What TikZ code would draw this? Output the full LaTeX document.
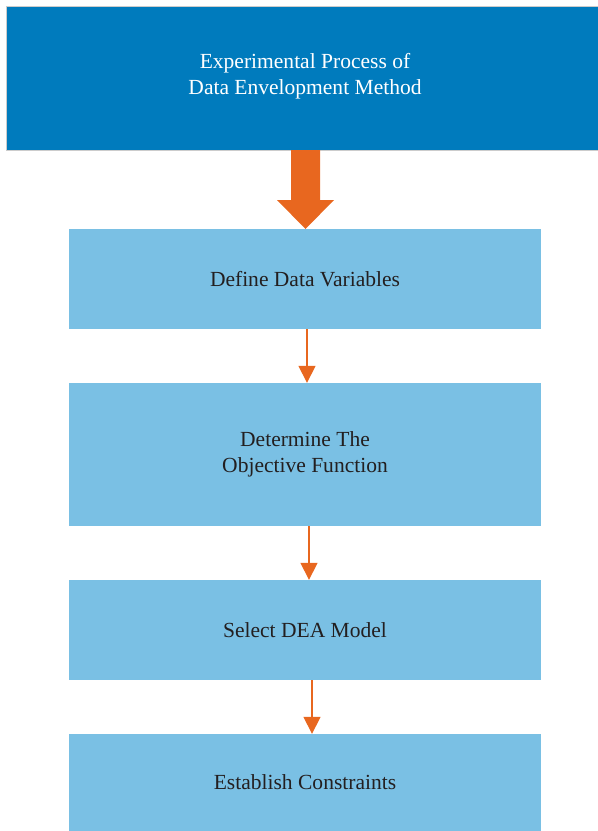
\documentclass[tikz,border=0pt]{standalone}
\usepackage{fontspec}
\setmainfont{Liberation Serif}
\usetikzlibrary{arrows.meta}
\definecolor{deepblue}{HTML}{007BBD}
\definecolor{paleblue}{HTML}{7AC0E4}
\definecolor{flow}{HTML}{E8671F}
\definecolor{ink}{HTML}{231F20}
\begin{document}
\begin{tikzpicture}[x=1bp,y=-1bp,
  stepbox/.style={fill=paleblue, draw=none, minimum width=472bp, inner sep=0pt,
    text=ink, align=center, font=\fontsize{21.6}{26}\selectfont},
  thin/.style={draw=flow, line width=1.6bp, -{Triangle[length=17bp,width=17bp]}}]
\useasboundingbox (0,0) rectangle (598,831);
% header band
\fill[deepblue] (6,6) rectangle (598,150);
\draw[black!20, line width=0.8bp] (598,6) -- (6,6) -- (6,150) -- (598,150);
\node[text=white, align=center, font=\fontsize{21.6}{26}\selectfont] (title) at (305,76)
  {Experimental Process of\\Data Envelopment Method};
% steps
\node[stepbox, minimum height=100bp] (s1) at (305,279) {Define Data Variables};
\node[stepbox, minimum height=143bp] (s2) at (305,454.5) {Determine The\\Objective Function};
\node[stepbox, minimum height=100bp] (s3) at (305,630) {Select DEA Model};
\node[stepbox, minimum height=97bp] (s4) at (305,782.5) {Establish Constraints};
% block arrow from header to first step
\fill[flow] (291,150) -- (320,150) -- (320,200) -- (334,200) -- (305.5,229)
  -- (277,200) -- (291,200) -- cycle;
% connectors
\draw[thin] (s1.south -| 307,0) -- (s2.north -| 307,0);
\draw[thin] (s2.south -| 309,0) -- (s3.north -| 309,0);
\draw[thin] (s3.south -| 312,0) -- (s4.north -| 312,0);
\end{tikzpicture}
\end{document}
